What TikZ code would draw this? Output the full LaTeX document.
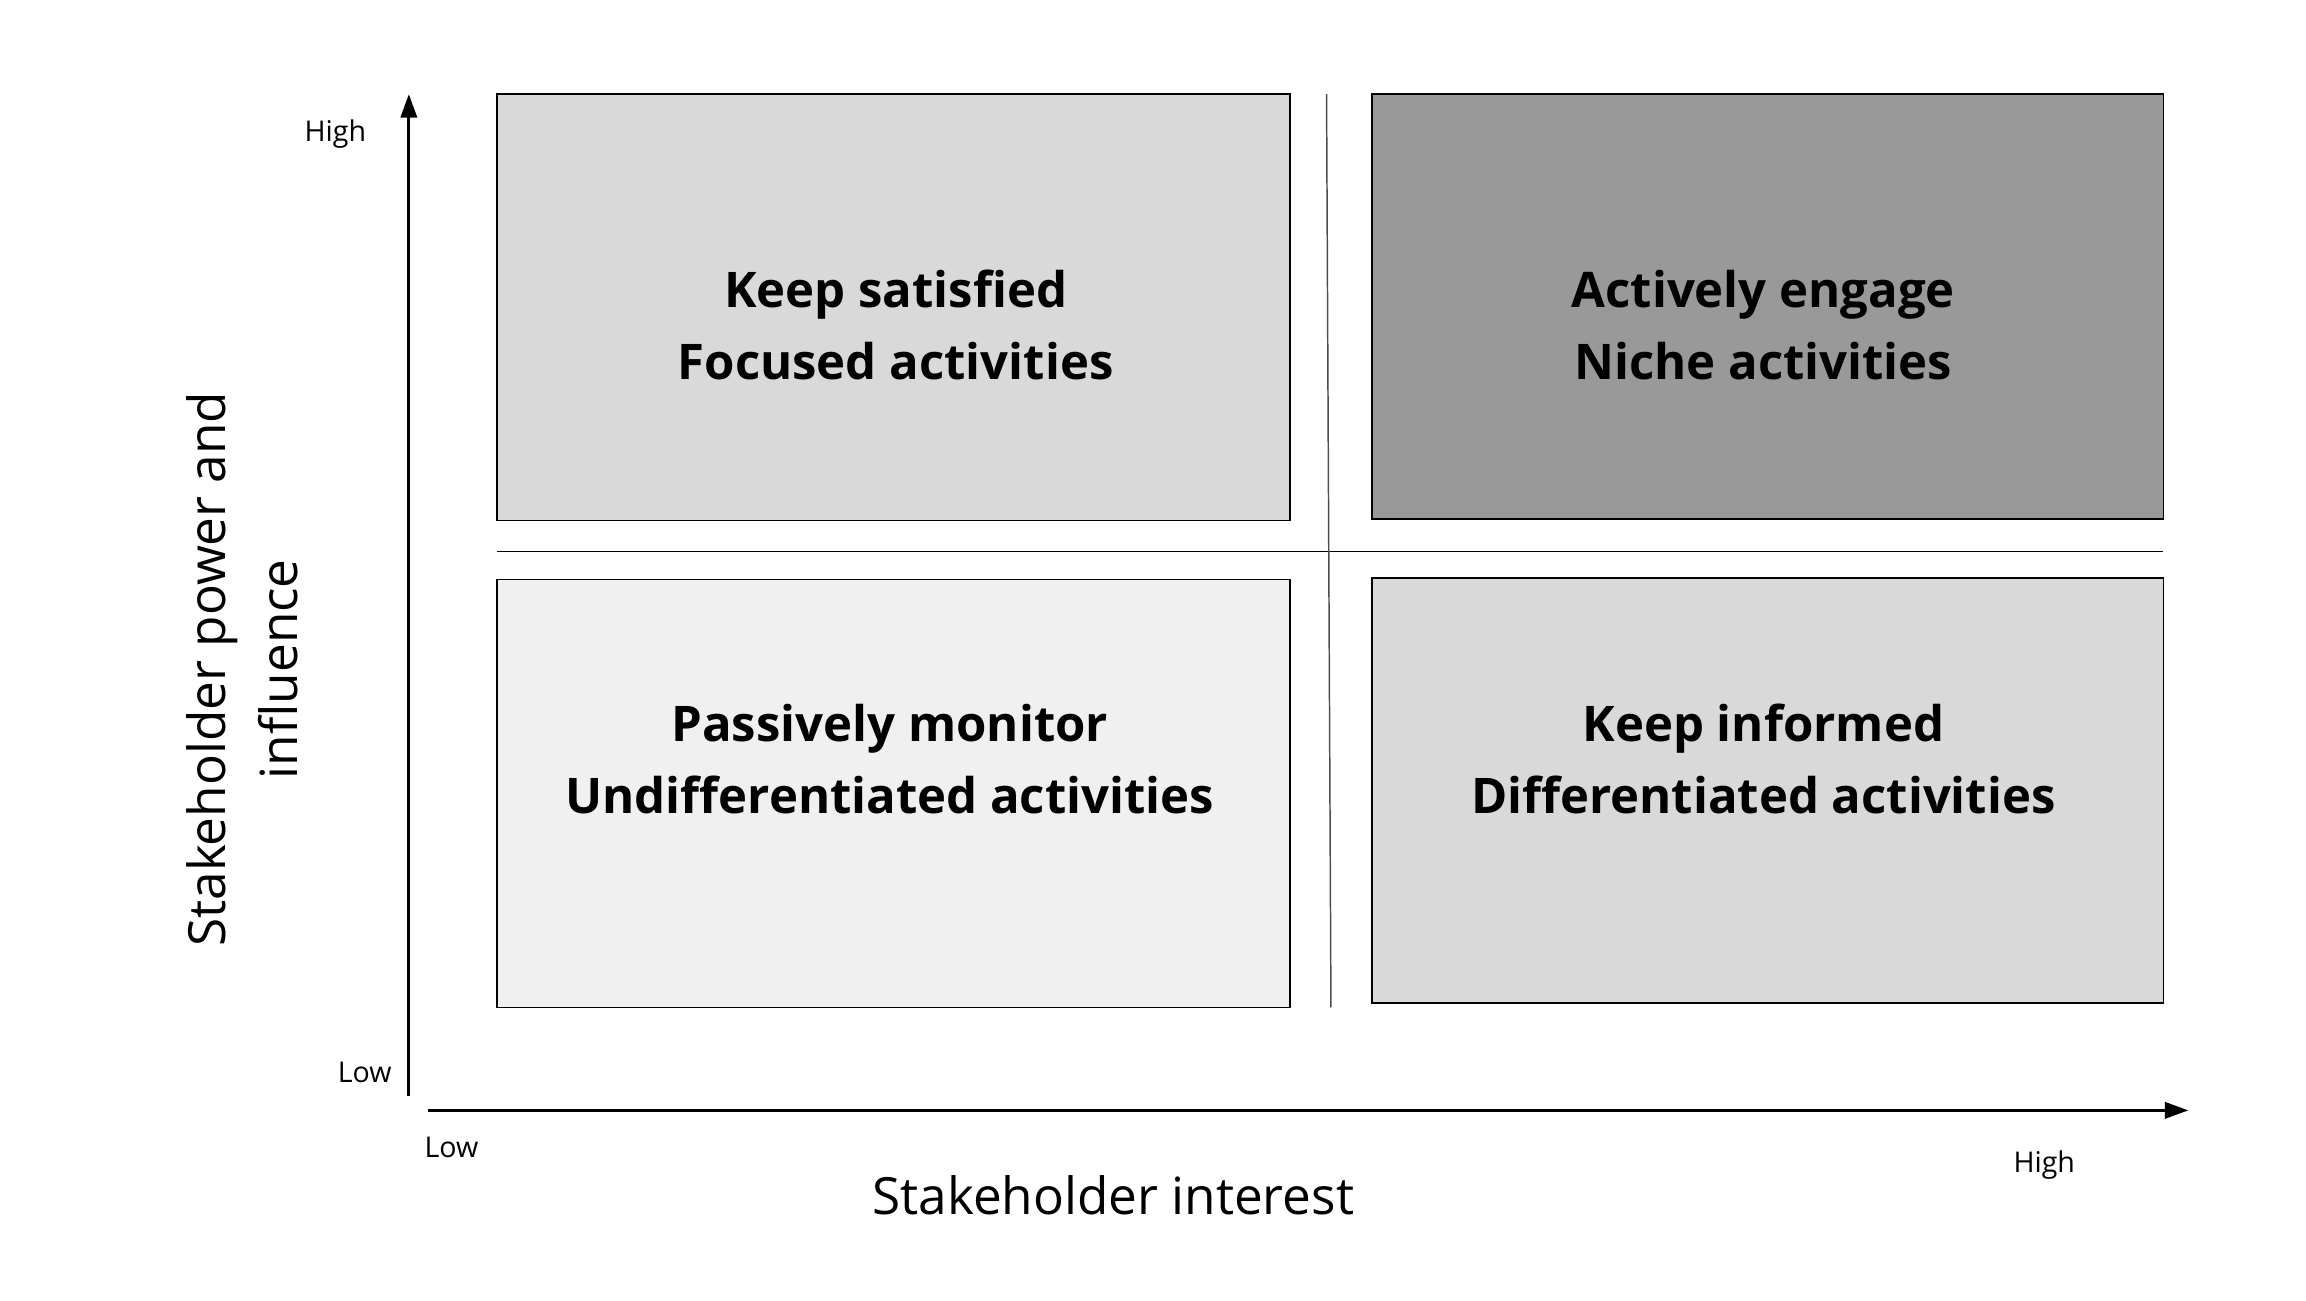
\documentclass[tikz,border=0pt]{standalone}
\usepackage{fontspec}
\setmainfont{Open Sans}
\usetikzlibrary{arrows.meta}
\begin{document}
\begin{tikzpicture}[x=1bp,y=-1bp,
  quad/.style={draw=black,line width=1bp},
  qtext/.style={font=\bfseries\fontsize{33.5}{49}\selectfont,align=center},
  small/.style={font=\fontsize{19.5}{24}\selectfont},
  axlab/.style={font=\fontsize{35}{49}\selectfont,align=center},
  axis/.style={line width=2.2bp,-{Triangle[length=16bp,width=11bp]}}]
\useasboundingbox (0,0) rectangle (1568,884);
\filldraw[quad,fill=black!15] (338,64) rectangle (877,354);
\filldraw[quad,fill=black!40] (933,64) rectangle (1471,353);
\filldraw[quad,fill=black!6] (338,394) rectangle (877,685);
\filldraw[quad,fill=black!15] (933,393) rectangle (1471,682);
\node[qtext] (tl) at (609,221) {Keep satisfied\\Focused activities};
\node[qtext] (tr) at (1199,221) {Actively engage\\Niche activities};
\node[qtext] (bl) at (605,516) {Passively monitor\\Undifferentiated activities};
\node[qtext] (br) at (1199,516) {Keep informed\\Differentiated activities};
\coordinate (h1) at (338,375); \coordinate (h2) at (1471,375);
\draw[line width=1bp] (h1) -- (h2);
\coordinate (v1) at (902,64); \coordinate (v2) at (905,685);
\draw[line width=1bp,black!70] (v1) -- (v2);
\coordinate (y0) at (278,745); \coordinate (y1) at (278,64);
\draw[axis] (y0) -- (y1);
\coordinate (x0) at (291,755); \coordinate (x1) at (1488,755);
\draw[axis] (x0) -- (x1);
\node[small] (yh) at (228,91) {High};
\node[small] (yl) at (248,729) {Low};
\node[small] (xl) at (307,780) {Low};
\node[small] (xh) at (1390,792) {High};
\node[axlab] (xlab) at (757,813) {Stakeholder interest};
\node[axlab,rotate=90] (ylab) at (165,455) {Stakeholder power and\\influence};
\end{tikzpicture}
\end{document}
